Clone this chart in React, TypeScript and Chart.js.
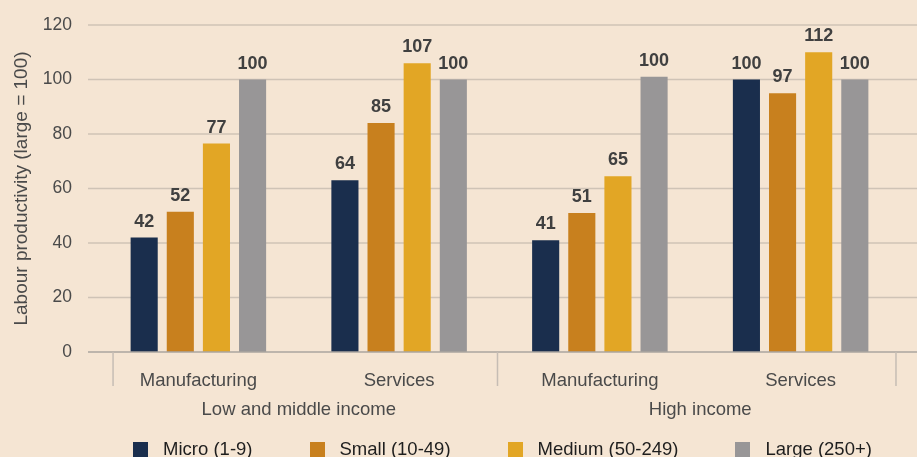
import { useEffect, useRef } from "react";
import { Chart, registerables } from "chart.js";

Chart.register(...registerables);

// ---- Data ----
const categories = ["Manufacturing", "Services", "Manufacturing", "Services"];
const groups = ["Low and middle income", "High income"];
const seriesNames = ["Micro (1-9)", "Small (10-49)", "Medium (50-249)", "Large (250+)"];

const microValues = [42, 63, 41, 100];
const smallValues = [51.5, 84, 51, 95];
const mediumValues = [76.5, 106, 64.5, 110];
const largeValues = [100, 100, 101, 100];

const microLabels = ["42", "64", "41", "100"];
const smallLabels = ["52", "85", "51", "97"];
const mediumLabels = ["77", "107", "65", "112"];
const largeLabels = ["100", "100", "100", "100"];

const yTicks = [0, 20, 40, 60, 80, 100, 120];
const yTitle = "Labour productivity (large = 100)";

// ---- Styles ----
const BG = "#f5e5d3";
const COLORS = ["#1a2e4d", "#c8801e", "#e2a625", "#989697"];
const FONT = "'Liberation Sans', Arial, Helvetica, sans-serif";
const TEXT = "#4a4a4a";

export default function App() {
  const ref = useRef<HTMLCanvasElement>(null);

  useEffect(() => {
    const allValues = [microValues, smallValues, mediumValues, largeValues];
    const allLabels = [microLabels, smallLabels, mediumLabels, largeLabels];

    const decorPlugin = {
      id: "decor",
      beforeDatasetsDraw(chart: any) {
        const { ctx, chartArea, scales } = chart;
        const y = scales.y;
        ctx.save();
        ctx.strokeStyle = "#cfc3b6";
        ctx.lineWidth = 1.5;
        yTicks.forEach((v) => {
          if (v === 0) return;
          const py = y.getPixelForValue(v);
          ctx.beginPath();
          ctx.moveTo(chartArea.left - 10, py);
          ctx.lineTo(chart.width, py);
          ctx.stroke();
        });
        ctx.restore();
      },
      afterDatasetsDraw(chart: any) {
        const { ctx, chartArea, scales } = chart;
        const y = scales.y;
        const x = scales.x;
        ctx.save();
        // baseline
        const py0 = y.getPixelForValue(0);
        ctx.strokeStyle = "#aaa49f";
        ctx.lineWidth = 1.5;
        ctx.beginPath();
        ctx.moveTo(chartArea.left - 10, py0);
        ctx.lineTo(chart.width, py0);
        ctx.stroke();
        // group separators
        ctx.strokeStyle = "#c6bdb4";
        ctx.lineWidth = 1.5;
        [-0.425, 1.49, 3.475].forEach((v) => {
          const px = x.getPixelForValue(v);
          ctx.beginPath();
          ctx.moveTo(px, py0);
          ctx.lineTo(px, py0 + 34);
          ctx.stroke();
        });
        // value labels
        ctx.fillStyle = "#404040";
        ctx.font = `bold 18px ${FONT}`;
        ctx.textAlign = "center";
        ctx.textBaseline = "alphabetic";
        chart.data.datasets.forEach((ds: any, di: number) => {
          const meta = chart.getDatasetMeta(di);
          meta.data.forEach((el: any, i: number) => {
            ctx.fillText(allLabels[di][i], el.x, el.y - 11);
          });
        });
        ctx.restore();
      },
    };

    const chart = new Chart(ref.current!, {
      type: "bar",
      data: {
        labels: categories,
        datasets: seriesNames.map((name, i) => ({
          label: name,
          data: allValues[i],
          backgroundColor: COLORS[i],
          borderWidth: 0,
          categoryPercentage: 0.72,
          barPercentage: 0.75,
        })),
      },
      options: {
        responsive: true,
        maintainAspectRatio: false,
        animation: false,
        layout: { padding: { top: 25, right: 16, bottom: 35, left: 0 } },
        plugins: {
          legend: { display: false },
          tooltip: { enabled: false },
        },
        scales: {
          x: {
            type: "category",
            position: "bottom",
            weight: 0,
            grid: { display: false, drawTicks: false },
            border: { display: false },
            afterFit: (scale: any) => {
              scale.height = 40;
            },
            ticks: {
              autoSkip: false,
              maxRotation: 0,
              padding: 18,
              color: TEXT,
              font: { family: FONT, size: 18.5 },
            },
          },
          x2: {
            type: "category",
            position: "bottom",
            weight: 1,
            labels: groups,
            offset: true,
            grid: { display: false, drawTicks: false },
            border: { display: false },
            afterFit: (scale: any) => {
              scale.height = 30;
            },
            ticks: {
              autoSkip: false,
              maxRotation: 0,
              padding: 7,
              color: TEXT,
              font: { family: FONT, size: 18.5 },
            },
          },
          y: {
            min: 0,
            max: 120,
            grid: { display: false, drawTicks: false },
            border: { display: false },
            afterFit: (scale: any) => {
              scale.width = 98;
              scale.paddingTop = 0;
              scale.paddingBottom = 0;
            },
            ticks: {
              stepSize: 20,
              padding: 26,
              color: TEXT,
              font: { family: FONT, size: 17.5 },
            },
            title: {
              display: true,
              text: yTitle,
              color: TEXT,
              font: { family: FONT, size: 19, weight: "normal" },
              padding: { top: 10, bottom: 0 },
            },
          },
        },
      },
      plugins: [decorPlugin],
    } as any);

    return () => chart.destroy();
  }, []);

  return (
    <div style={{ position: "fixed", inset: 0, background: BG, overflow: "hidden" }}>
      <div style={{ position: "absolute", left: 0, top: 0, width: 917, height: 457 }}>
        <canvas ref={ref} />
      </div>
      <div
        style={{
          position: "absolute",
          left: 88,
          width: 829,
          top: 438,
          display: "flex",
          justifyContent: "center",
          alignItems: "center",
          gap: 57,
          fontFamily: FONT,
          fontSize: 18.5,
          color: "#1e1e1e",
          whiteSpace: "nowrap",
        }}
      >
        {seriesNames.map((name, i) => (
          <div key={name} style={{ display: "flex", alignItems: "center" }}>
            <span
              style={{
                display: "inline-block",
                width: 15,
                height: 15,
                background: COLORS[i],
                marginRight: 15,
              }}
            />
            <span>{name}</span>
          </div>
        ))}
      </div>
    </div>
  );
}
